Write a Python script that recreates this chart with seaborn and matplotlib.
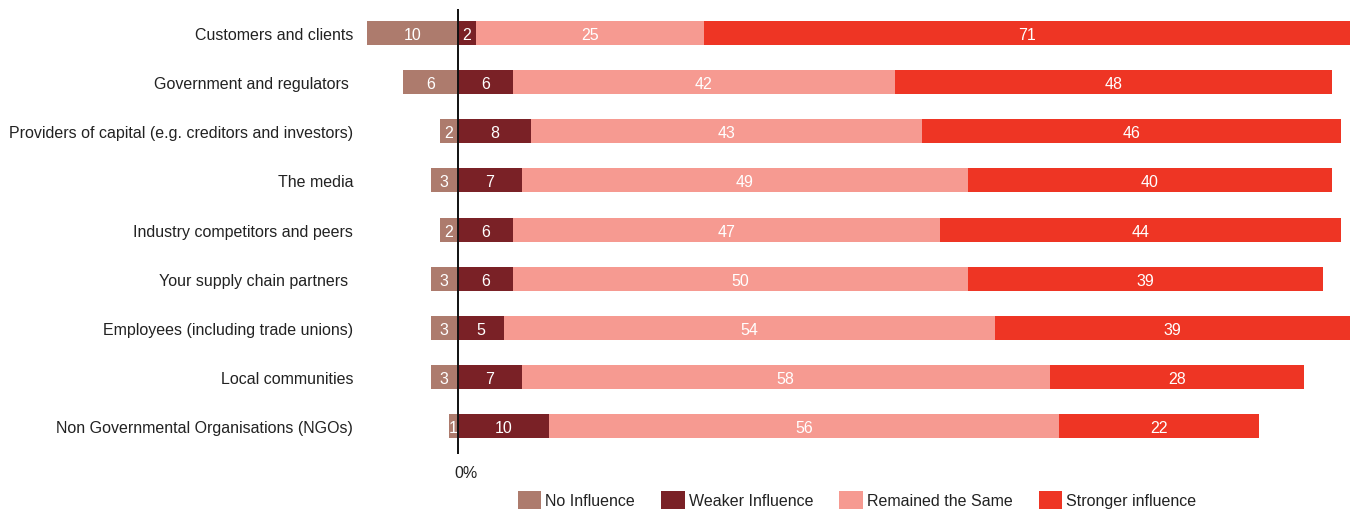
import pandas as pd
import matplotlib.pyplot as plt
import seaborn as sns
from matplotlib.patches import Patch
from matplotlib.transforms import ScaledTranslation

categories = [
    "Customers and clients",
    "Government and regulators ",
    "Providers of capital (e.g. creditors and investors)",
    "The media",
    "Industry competitors and peers",
    "Your supply chain partners ",
    "Employees (including trade unions)",
    "Local communities",
    "Non Governmental Organisations (NGOs)",
]
no_influence = [10, 6, 2, 3, 2, 3, 3, 3, 1]
weaker = [2, 6, 8, 7, 6, 6, 5, 7, 10]
remained = [25, 42, 43, 49, 47, 50, 54, 58, 56]
stronger = [71, 48, 46, 40, 44, 39, 39, 28, 22]

series_names = ["No Influence", "Weaker Influence", "Remained the Same", "Stronger influence"]
colors = ["#AD7B6D", "#7A2126", "#F69A91", "#EE3524"]

df = pd.DataFrame({
    "Stakeholder": categories,
    "No": no_influence,
    "Weaker": weaker,
    "Remained": remained,
    "Stronger": stronger,
})
df["NoNeg"] = -df["No"]
df["c1"] = df["Weaker"]
df["c2"] = df["Weaker"] + df["Remained"]
df["c3"] = df["c2"] + df["Stronger"]

sns.set_style("white")
plt.rcParams["font.family"] = ["Liberation Sans", "DejaVu Sans"]

fig = plt.figure(figsize=(13.57, 5.10), dpi=100)
ax = fig.add_axes([367 / 1357, 1 - 455 / 510, 983 / 1357, 445 / 510])

bw = 0.49
for col, c in zip(["c3", "c2", "c1", "NoNeg"], [colors[3], colors[2], colors[1], colors[0]]):
    sns.barplot(data=df, x=col, y="Stakeholder", color=c, width=bw, orient="h",
                ax=ax, saturation=1, linewidth=0, edgecolor="none")

# value labels
for i, row in df.iterrows():
    centers = [
        (-row["No"] / 2, row["No"]),
        (row["Weaker"] / 2, row["Weaker"]),
        (row["Weaker"] + row["Remained"] / 2, row["Remained"]),
        (row["c2"] + row["Stronger"] / 2, row["Stronger"]),
    ]
    for xc, v in centers:
        ax.text(xc, i, f"{v}", ha="center", va="center_baseline", color="white", fontsize=11.5)

ax.axvline(0, color="#111111", lw=1.4, zorder=5)
ax.set_xlim(-10, 98)
ax.set_ylim(8.57, -0.49)
ax.set_xlabel("")
ax.set_ylabel("")
ax.set_xticks([0], ["0%"])
ax.tick_params(axis="x", length=0, pad=8, labelsize=11.5, labelcolor="#222222")
ax.tick_params(axis="y", length=0, pad=10, labelsize=11.5, labelcolor="#222222")
for lab in ax.get_xticklabels():
    lab.set_transform(lab.get_transform() + ScaledTranslation(8 / 100, 0, fig.dpi_scale_trans))
sns.despine(ax=ax, left=True, bottom=True)

handles = [Patch(facecolor=c, edgecolor="none", label=n) for c, n in zip(colors, series_names)]
fig.legend(handles=handles, loc="center", bbox_to_anchor=(857 / 1357, 1 - 501 / 510),
           ncol=4, frameon=False, fontsize=11.5, handlelength=1.45, handleheight=1.45,
           handletextpad=0.25, columnspacing=1.65, labelcolor="#222222")

fig.savefig("out.png", dpi=100)
